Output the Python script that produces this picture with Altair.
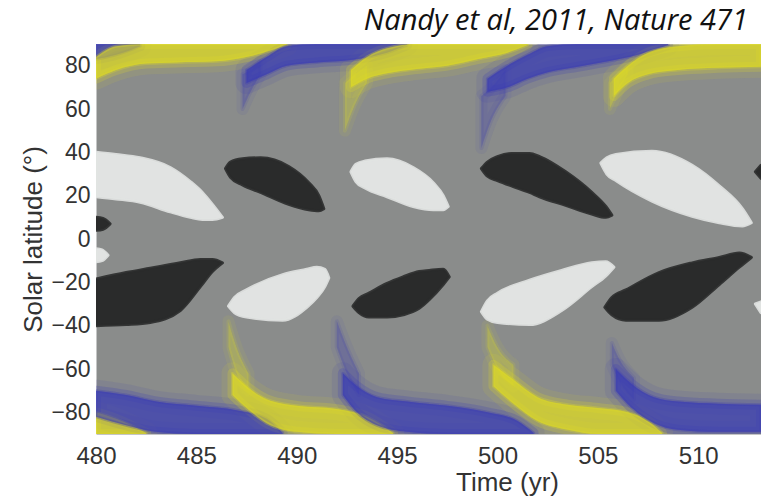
import altair as alt
import pandas as pd

# ---------------- sunspot "butterfly wings" (time in yr, latitude in deg) ----------------
wing_id = ["N1", "N2", "N3", "N4", "N5", "N6", "N7",
           "S1", "S2", "S3", "S4", "S5", "S6", "S7"]
wing_pol = ["white", "black", "black", "white", "black", "white", "black",
            "white", "black", "white", "black", "white", "black", "white"]
wing_t = [
    [480, 481.0, 482.2, 483.7, 484.7, 485.3, 485.8, 486.3],
    [480, 480.35, 480.7],
    [486.45, 486.7, 487.3, 488.2, 489.6, 490.6, 491.1, 491.35],
    [492.7, 492.95, 493.4, 494.5, 495.8, 496.8, 497.3, 497.55],
    [499.2, 499.5, 500.0, 500.7, 501.6, 502.1, 503.4, 504.7, 505.4, 505.7],
    [505.15, 505.45, 505.9, 507.7, 509.7, 511.05, 512.2, 512.65],
    [512.85, 513.13],
    [480, 480.3, 480.6],
    [480, 481.5, 482.7, 484.2, 485.2, 485.8, 486.3],
    [486.6, 486.9, 487.5, 489.3, 490.5, 491.0, 491.4, 491.6],
    [492.8, 493.1, 493.6, 494.5, 495.3, 496.1, 496.6, 497.3, 497.6],
    [499.2, 499.5, 500.0, 501.6, 503.2, 504.7, 505.4, 505.8],
    [505.35, 505.7, 506.4, 508.05, 509.7, 511.05, 512.05, 512.65],
    [512.85, 513.13],
]
wing_hi = [
    [40, 39, 37.5, 33, 26.5, 21.5, 16, 10],
    [10, 9.5, 7],
    [32.5, 35.5, 37, 37.5, 33.5, 26, 20, 14],
    [31, 34.5, 36, 37, 33, 26, 20, 15],
    [32.5, 35.5, 38, 39.5, 39.5, 38, 31, 21.5, 15, 11],
    [35, 37.5, 39, 40.5, 34, 24.5, 14, 7.5],
    [31, 34],
    [-4.5, -5, -7.5],
    [-18.5, -15.5, -13.5, -11, -9.5, -9.5, -11],
    [-31, -27, -23.5, -16.5, -14, -13, -14, -18],
    [-31, -27.5, -25, -20.5, -17.5, -15, -14.5, -14, -17.5],
    [-33.5, -28.5, -25, -19, -14.5, -11, -10.5, -13],
    [-31.5, -27, -23.5, -15.5, -11, -8.5, -6.5, -8.5],
    [-30, -29],
]
wing_lo = [
    [19.5, 18.5, 17, 12.5, 10, 9, 9, 10],
    [4, 4.5, 7],
    [32.5, 28.5, 25, 21.5, 16, 13.5, 13, 14],
    [31, 26.5, 23.5, 19.5, 15, 13.5, 13.5, 15],
    [32.5, 29, 27, 24.5, 21.5, 19.5, 15.5, 11.5, 10, 11],
    [35, 30, 27, 17.5, 10.5, 7.5, 6, 7.5],
    [31, 28],
    [-10.5, -10, -7.5],
    [-40, -39.5, -38.5, -33, -22, -15, -11],
    [-31, -34, -36, -37.5, -31.5, -27, -22, -18],
    [-31, -34, -36, -36, -35, -32, -28, -21, -17.5],
    [-33.5, -37, -38.5, -39.5, -33, -22, -17, -13],
    [-31.5, -35, -37.5, -37.5, -31.5, -21, -13, -8.5],
    [-30, -34],
]

# ---------------- polar magnetic field bands ----------------
band_id = ["NB1", "NY1", "NB2", "NY2", "NB3", "NY3",
           "NB2s", "NY2s", "NB3s", "NY3s",
           "SY0", "SB1", "SY1", "SB2", "SY2", "SB3",
           "SY1s", "SB2s", "SY2s", "SB3s"]
band_pol = ["blue", "yellow", "blue", "yellow", "blue", "yellow",
            "blue", "yellow", "blue", "yellow",
            "yellow", "blue", "yellow", "blue", "yellow", "blue",
            "yellow", "blue", "yellow", "blue"]
band_strength = ["core"] * 6 + ["faint"] * 4 + ["core"] * 6 + ["faint"] * 4
band_t = [
    [480, 481, 482.2],
    [480, 481, 482.5, 484, 486, 487.5, 488.7, 489.5],
    [487.5, 488.5, 489.5, 491, 493, 494.5, 495.5],
    [492.7, 493.5, 494.5, 496, 497.5, 499, 500.5, 501.5],
    [499.5, 500.5, 501.5, 502.5, 504, 505.5, 507, 508.5],
    [505.8, 506.5, 507.5, 509, 511, 513.13],
    [487.3, 487.7, 488.2],
    [492.4, 492.9, 493.5],
    [499.2, 499.7, 500.4],
    [505.6, 506.0, 506.5],
    [480, 481, 482.5],
    [480, 481.5, 483, 485, 487, 488.5, 489.3],
    [486.8, 487.5, 488.5, 490, 492, 493.5, 494.8],
    [492.3, 493, 494, 495.5, 497.5, 499.5, 501, 501.8],
    [499.8, 500.8, 502, 503.5, 505, 506.5, 507.5, 508.2],
    [505.9, 506.7, 507.8, 509, 511, 513.13],
    [486.6, 487.0, 487.6],
    [492.0, 492.5, 493.1],
    [499.5, 500.0, 500.8],
    [505.7, 506.1, 506.8],
]
band_hi = [
    [90, 90, 90],
    [84, 89, 90, 90, 90, 90, 90, 90],
    [78, 84, 89, 90, 90, 90, 90],
    [78, 84, 88, 90, 90, 90, 90, 90],
    [74, 80, 85, 89, 90, 90, 90, 90],
    [74, 80, 86, 89, 90, 90],
    [76, 78, 82],
    [72, 76, 80],
    [66, 70, 78],
    [72, 76, 80],
    [-80, -83, -89.5],
    [-70, -72, -75, -77, -79, -83, -89.5],
    [-62, -68, -74, -77, -78.5, -82, -89.5],
    [-62, -68, -73, -75, -77, -80, -84, -89.5],
    [-58, -65, -73, -76.5, -78, -80, -84, -89.5],
    [-60, -67, -73, -75, -76, -76.5],
    [-38, -50, -62],
    [-38, -50, -62],
    [-40, -50, -58],
    [-48, -56, -64],
]
band_lo = [
    [83, 85, 89],
    [74, 78, 81, 81.5, 82, 84, 87, 89.5],
    [72, 76, 80, 81.5, 83, 86, 89.5],
    [70, 74, 76.5, 78.5, 80, 83, 86, 89.5],
    [68, 70, 74, 77, 79.5, 82, 85, 89.5],
    [66, 72, 76, 78, 79, 79.5],
    [60, 68, 76],
    [50, 62, 72],
    [42, 55, 66],
    [60, 68, 76],
    [-90, -90, -90],
    [-82, -86, -89, -90, -90, -90, -90],
    [-72, -78, -85, -89, -90, -90, -90],
    [-72, -80, -86, -89, -90, -90, -90, -90],
    [-68, -76, -84, -88, -90, -90, -90, -90],
    [-70, -78, -85, -88, -89, -89],
    [-50, -62, -70],
    [-50, -62, -72],
    [-50, -60, -68],
    [-58, -66, -74],
]

x_ticks = [480, 485, 490, 495, 500, 505, 510]
y_ticks = [-80, -60, -40, -20, 0, 20, 40, 60, 80]

# ---------------- tables ----------------
wing_rows = []
for i, wid in enumerate(wing_id):
    for t, lo, hi in zip(wing_t[i], wing_lo[i], wing_hi[i]):
        wing_rows.append({"id": wid, "kind": wing_pol[i], "t": t, "lo": lo, "hi": hi})
wings = pd.DataFrame(wing_rows)

band_rows = []
for i, bid in enumerate(band_id):
    for t, lo, hi in zip(band_t[i], band_lo[i], band_hi[i]):
        band_rows.append({"id": bid, "kind": band_pol[i], "strength": band_strength[i],
                          "t": t, "lo": lo, "hi": hi})
bands = pd.DataFrame(band_rows)

kinds = ["white", "black", "yellow", "blue"]
kind_colors = ["#e1e3e2", "#2a2b2b", "#dedb24", "#3b3db4"]
cscale = alt.Scale(domain=kinds, range=kind_colors)

xscale = alt.Scale(domain=[480, 513.13], nice=False, zero=False)
yscale = alt.Scale(domain=[-90, 90], nice=False, zero=False)

x_axis = alt.Axis(values=x_ticks, title="Time (yr)", ticks=False, tickSize=0, domain=False,
                  grid=False, labelFlush=False, labelFontSize=24, labelFont="Liberation Sans",
                  labelColor="#333333", labelPadding=10, titleFontSize=26,
                  titleFont="Liberation Sans", titleColor="#333333", titleFontWeight="normal",
                  titleX=411, titlePadding=1)
y_axis = alt.Axis(values=y_ticks, title="Solar latitude (°)", ticks=False, tickSize=0,
                  domain=False, grid=False, labelFlush=False, labelFontSize=23,
                  labelFont="Liberation Sans",
                  labelColor="#333333", labelPadding=6, titleFontSize=26,
                  titleFont="Liberation Sans", titleColor="#333333", titleFontWeight="normal",
                  titlePadding=4)


def area_layer(data, fill_opacity, stroke_width, stroke_opacity):
    return alt.Chart(data).mark_area(
        clip=True, interpolate="monotone", fillOpacity=fill_opacity,
        strokeWidth=stroke_width, strokeOpacity=stroke_opacity, strokeJoin="round"
    ).encode(
        x=alt.X("t:Q", scale=xscale, axis=x_axis),
        y=alt.Y("lo:Q", scale=yscale, axis=y_axis),
        y2="hi:Q",
        color=alt.Color("kind:N", scale=cscale, legend=None),
        stroke=alt.Stroke("kind:N", scale=cscale, legend=None),
        detail="id:N",
    )


core_bands = bands[bands["strength"] == "core"]
faint_bands = bands[bands["strength"] == "faint"]

layers = [
    area_layer(faint_bands, 0.12, 12, 0.08),
    area_layer(faint_bands, 0.18, 4, 0.12),
    area_layer(core_bands, 0.15, 22, 0.10),
    area_layer(core_bands, 0.25, 10, 0.22),
    area_layer(core_bands, 0.6, 3, 0.3),
    area_layer(wings, 1.0, 3, 0.9),
]

chart = alt.layer(*layers).properties(
    width=665,
    height=390,
    padding={"left": 96, "top": 44, "right": 0, "bottom": 68},
    autosize=alt.AutoSizeParams(type="none"),
    background="white",
    title=alt.TitleParams(
        text="Nandy et al, 2011, Nature 471",
        anchor="end", font="Open Sans", fontStyle="italic", fontWeight="normal",
        fontSize=29, color="#111111", offset=8, dx=-13,
    ),
).configure_view(fill="#8a8c8b", stroke="transparent")

chart.save("out.html", embed_options={"renderer": "svg", "actions": False})
